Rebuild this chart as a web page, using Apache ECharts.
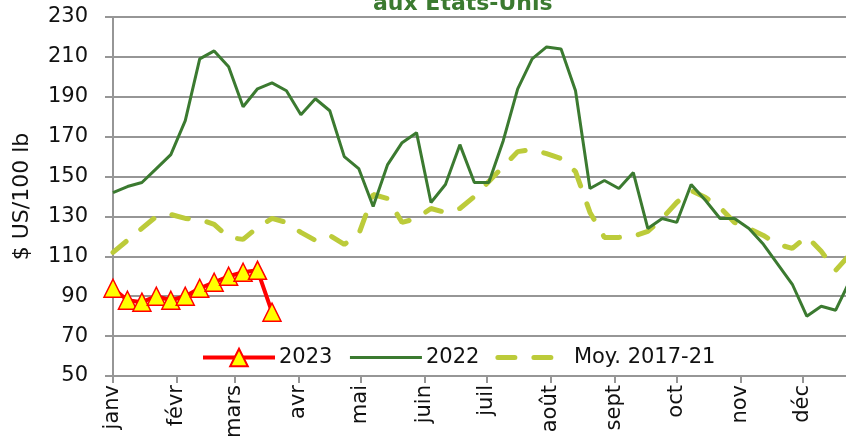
<!DOCTYPE html>
<html>
<head>
<meta charset="utf-8">
<title>Prix aux États-Unis</title>
<script src="https://cdn.jsdelivr.net/npm/echarts@6/dist/echarts.min.js"></script>
<style>
    html, body { margin: 0; padding: 0; background: #fff; }
    #main { width: 846px; height: 443px; }
</style>
</head>
<body>
<div id="main"></div>
<script>
// mois (axe x en jours de l'année)
var months = ['janv', 'févr', 'mars', 'avr', 'mai', 'juin', 'juil', 'août', 'sept', 'oct', 'nov', 'déc'];
var monthStartDays = [0, 31, 59, 90, 120, 151, 181, 212, 243, 273, 304, 334];
var yTicks = [50, 70, 90, 110, 130, 150, 170, 190, 210, 230];

// valeurs hebdomadaires, $ US/100 lb
var values2023 = [94, 88, 87, 90, 88, 90, 94, 97, 100, 102, 103, 82];
var values2022 = [142, 145, 147, 154, 161, 178, 209, 213, 205, 185, 194, 197, 193,
    181, 189, 183, 160, 154, 135, 156, 167, 172, 137, 146, 166, 147, 147, 168, 194,
    209, 215, 214, 193, 144, 148, 144, 152, 124, 129, 127, 146, 138, 129, 129, 124,
    116, 106, 96, 80, 85, 83, 98];
var valuesMoy = [112, 118, 124, 130, 131, 129, 128.5, 126, 119.5, 118.5, 124.5, 129, 127,
    122, 118, 120.5, 116, 121, 141, 139, 127, 129, 134, 132, 134, 140, 147.5, 155, 162.5,
    163.5, 161.5, 159, 152.5, 132, 119.5, 119.5, 120, 122.5, 129, 137, 143, 139.5, 134.5,
    127, 124, 120.5, 116, 114, 120, 112.5, 103, 111];

// une semaine = 7 jours
function weekly(values) {
    var out = [];
    for (var i = 0; i < values.length; i++) {
        out.push([i * 7, values[i]]);
    }
    return out;
}

var font = 'DejaVu Sans';
var gridColor = '#969696';
var green = '#3b7a30';
var olive = '#bccb3a';
var moyLine = { color: olive, width: 5, type: [17, 19], cap: 'round' };

var myChart = echarts.init(document.getElementById('main'));

var option = {
    animation: false,
    backgroundColor: '#fff',
    title: {
        text: 'aux États-Unis',
        left: 368,
        top: -12,
        textStyle: {
            fontFamily: font,
            fontSize: 22,
            fontWeight: 'bold',
            color: green
        }
    },
    legend: {
        left: 196,
        top: 342,
        itemWidth: 72,
        itemHeight: 22,
        itemGap: 16,
        data: [{
            name: '2023',
            lineStyle: { color: '#ff0000', width: 4 }
        }, {
            name: '2022',
            itemStyle: { opacity: 0 },
            lineStyle: { color: green, width: 3 }
        }, {
            name: 'Moy. 2017-21',
            itemStyle: { opacity: 0 },
            lineStyle: moyLine
        }],
        textStyle: {
            fontFamily: font,
            fontSize: 21,
            color: '#111',
            padding: [0, 0, 0, -1]
        }
    },
    grid: {
        left: 113,
        right: 0,
        top: 17,
        bottom: 67
    },
    xAxis: {
        type: 'value',
        min: 0,
        max: 355,
        splitLine: { show: false },
        axisLine: { lineStyle: { color: gridColor, width: 2 } },
        axisTick: {
            customValues: monthStartDays,
            length: 7,
            lineStyle: { color: gridColor, width: 2 }
        },
        axisLabel: {
            customValues: monthStartDays,
            rotate: 90,
            margin: 9,
            fontFamily: font,
            fontSize: 21,
            color: '#111',
            formatter: function(val) {
                return months[monthStartDays.indexOf(val)];
            }
        }
    },
    yAxis: {
        type: 'value',
        min: yTicks[0],
        max: yTicks[yTicks.length - 1],
        interval: 20,
        name: '$ US/100 lb',
        nameLocation: 'middle',
        nameGap: 80,
        nameTextStyle: {
            fontFamily: font,
            fontSize: 22,
            color: '#111'
        },
        axisLine: { show: true, lineStyle: { color: gridColor, width: 2 } },
        axisTick: { show: true, length: 8, lineStyle: { color: gridColor, width: 2 } },
        splitLine: { lineStyle: { color: gridColor, width: 2 } },
        axisLabel: {
            margin: 25,
            fontFamily: font,
            fontSize: 21,
            color: '#111'
        }
    },
    series: [{
        name: 'Moy. 2017-21',
        type: 'line',
        data: weekly(valuesMoy),
        symbol: 'none',
        z: 1,
        lineStyle: moyLine,
        itemStyle: { color: olive }
    }, {
        name: '2022',
        type: 'line',
        data: weekly(values2022),
        symbol: 'none',
        z: 2,
        lineStyle: { color: green, width: 3 },
        itemStyle: { color: green }
    }, {
        name: '2023',
        type: 'line',
        data: weekly(values2023),
        symbol: 'triangle',
        symbolSize: 18,
        z: 3,
        lineStyle: { color: '#ff0000', width: 4 },
        itemStyle: {
            color: '#ffff00',
            borderColor: '#ff0000',
            borderWidth: 1.5
        }
    }]
};

myChart.setOption(option);
</script>
</body>
</html>
